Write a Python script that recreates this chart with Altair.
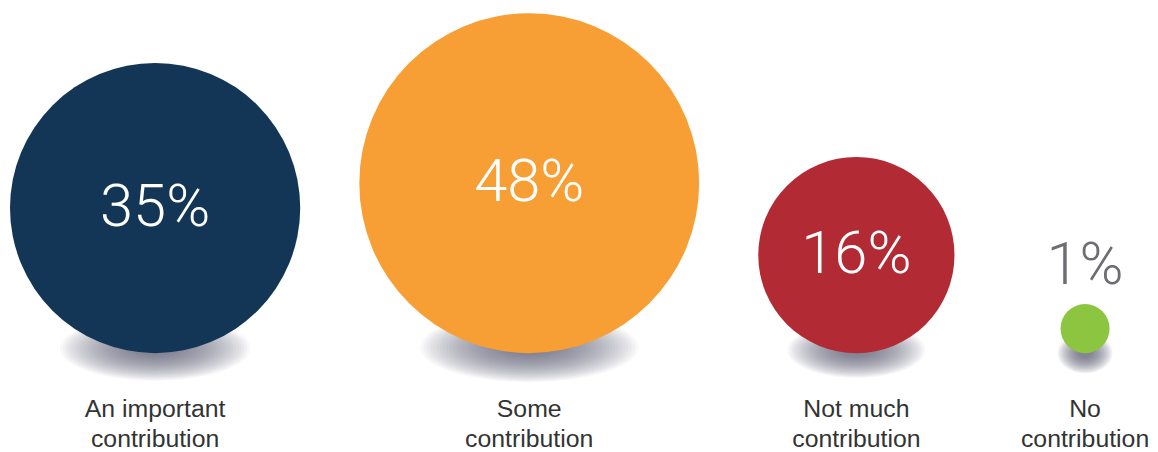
import math
import altair as alt
import pandas as pd

# ---- data ----
categories = ["An important contribution", "Some contribution",
              "Not much contribution", "No contribution"]
label_text = ["An important\ncontribution", "Some\ncontribution",
              "Not much\ncontribution", "No\ncontribution"]
values = [35, 48, 16, 1]
colors = ["#133657", "#f79f35", "#b22a34", "#8cc540"]

# ---- layout (derived from the values) ----
W, H = 1150, 444
PX = 24.7           # pixels per sqrt(percent): circle area ~ value
GAP = 59.5
MIN_COL = 144
LEFT = 2
BASE = 346          # common bottom line of the circles
INSIDE_MIN_R = 60

radii = [PX * math.sqrt(v) for v in values]
cols = [max(2 * r, MIN_COL) for r in radii]
centers = []
pos = LEFT
for w in cols:
    centers.append(pos + w / 2)
    pos += w + GAP

df = pd.DataFrame({
    "category": categories,
    "label": label_text,
    "value": values,
    "r": radii,
    "cx": centers,
})
df["pct"] = df["value"].astype(str) + "%"
df["cy"] = BASE - df["r"]
df["top"] = BASE - 2 * df["r"]
df["label_y"] = BASE + 64

# soft shadow: a stack of translucent concentric ellipses under each circle
N_LAYERS = 28
rows = []
for cat, r, cx in zip(categories, radii, centers):
    rx = 0.56 * r + 14
    ry = 0.10 * r + 18
    a = ry / rx
    path = f"M-1,0A1,{a:.4f} 0 1 0 1,0A1,{a:.4f} 0 1 0 -1,0Z"
    for i in range(N_LAYERS):
        f = 1.0 - 0.8 * i / (N_LAYERS - 1)
        rows.append({"category": cat, "sx": cx, "sy": BASE - 0.04 * r + 1,
                     "ssize": (2 * rx * f) ** 2, "shape": path})
shadow_df = pd.DataFrame(rows)

xs = alt.Scale(domain=[0, W], nice=False, zero=False)
ys = alt.Scale(domain=[0, H], nice=False, zero=False, reverse=True)

base = alt.Chart(df)

shadows = alt.Chart(shadow_df).mark_point(
    filled=True, fill="#62656c", fillOpacity=0.042, strokeWidth=0, opacity=1,
).encode(
    x=alt.X("sx:Q", scale=xs, axis=None),
    y=alt.Y("sy:Q", scale=ys, axis=None),
    size=alt.Size("ssize:Q", scale=None, legend=None),
    shape=alt.Shape("shape:N", scale=None, legend=None),
)

circles = base.mark_circle(opacity=1).encode(
    x=alt.X("cx:Q", scale=xs, axis=None),
    y=alt.Y("cy:Q", scale=ys, axis=None),
    size=alt.Size("value:Q", legend=None,
                  scale=alt.Scale(domain=[0, 48], range=[0, 4 * PX * PX * 48])),
    color=alt.Color("category:N", legend=None,
                    scale=alt.Scale(domain=categories, range=colors)),
)

pct_inside = base.transform_filter(f"datum.r > {INSIDE_MIN_R}").mark_text(
    font="Roboto", fontWeight=300, fontSize=60, color="#ffffff",
    align="center", baseline="middle",
).encode(
    x=alt.X("cx:Q", scale=xs, axis=None),
    y=alt.Y("cy:Q", scale=ys, axis=None),
    text="pct:N",
)

pct_outside = base.transform_filter(f"datum.r <= {INSIDE_MIN_R}").mark_text(
    font="Roboto", fontWeight=300, fontSize=60, color="#6d6e71",
    align="center", baseline="alphabetic", dy=-20,
).encode(
    x=alt.X("cx:Q", scale=xs, axis=None),
    y=alt.Y("top:Q", scale=ys, axis=None),
    text="pct:N",
)

labels = base.mark_text(
    font="Liberation Sans", fontSize=25, color="#333333",
    align="center", baseline="alphabetic", lineBreak="\n", lineHeight=31,
).encode(
    x=alt.X("cx:Q", scale=xs, axis=None),
    y=alt.Y("label_y:Q", scale=ys, axis=None),
    text="label:N",
)

chart = alt.layer(shadows, circles, pct_inside, pct_outside, labels).properties(
    width=W, height=H, padding=0,
    autosize=alt.AutoSizeParams(type="none"),
    background="#ffffff",
).configure_view(stroke=None)

chart.save("out.html", embed_options={"renderer": "svg", "actions": False})
